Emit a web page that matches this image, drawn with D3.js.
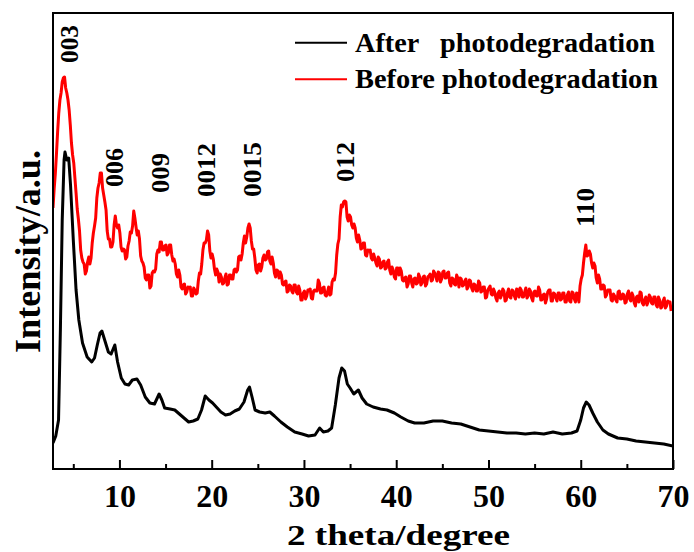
<!DOCTYPE html>
<html>
<head>
<meta charset="utf-8">
<script src="https://cdn.jsdelivr.net/npm/d3@7/dist/d3.min.js"></script>
<style>
  html, body { margin: 0; padding: 0; background: #fff; }
  svg { display: block; }
  text { font-family: "Liberation Serif", "Times New Roman", serif; font-weight: bold; fill: #000; }
</style>
</head>
<body>
<svg id="chart" width="694" height="552"></svg>
<script>
// XRD patterns of the LDH sample before and after photodegradation (intensity in a.u.)

// Before photodegradation: scan starts at 2.8 deg, step 0.125 deg
const beforeStart = 2.8;
const beforeStep = 0.125;
const beforeIntensity = [
  261,280,295,315,337,356,369,376,387,391,392,381,376,369,359,344,326,314,306,291,
  276,260,250,238,219,211,207,205,195,198,207,212,205,211,226,236,243,251,271,281,
  286,296,296,281,274,267,259,238,230,230,222,222,227,244,253,244,241,244,236,222,
  218,220,219,210,212,223,228,237,236,243,258,251,242,234,238,230,213,208,206,202,
  191,189,194,194,181,183,196,198,197,200,215,219,217,227,227,219,219,223,224,214,
  216,224,224,214,208,210,205,195,192,199,194,182,180,184,185,175,177,182,181,182,
  173,173,181,179,175,176,188,196,195,205,219,226,226,229,238,234,218,211,215,210,
  200,194,200,197,187,195,192,185,186,191,195,184,185,194,194,190,190,199,200,197,
  199,212,213,209,215,226,233,226,232,241,245,241,228,220,220,211,199,196,204,205,
  198,202,211,214,209,210,217,218,208,205,212,206,196,192,199,198,191,197,194,185,
  184,187,188,177,178,184,183,178,176,184,184,177,175,183,179,169,169,176,178,170,
  173,179,179,180,171,170,178,179,178,178,189,186,176,176,181,182,174,173,177,182,
  174,175,187,190,189,196,214,225,230,252,264,262,267,268,267,252,248,254,252,244,
  241,245,241,231,227,234,229,220,221,226,226,214,213,219,218,219,211,209,215,211,
  206,203,212,210,201,202,207,208,200,201,207,209,199,195,202,199,192,190,201,201,
  194,201,198,189,188,191,192,182,185,193,193,186,182,190,191,185,186,195,192,184,
  186,192,193,183,185,192,193,195,188,189,198,196,192,188,197,196,187,190,197,198,
  191,191,196,197,186,183,191,190,185,184,194,191,182,191,190,183,184,188,190,180,
  182,189,188,181,178,185,184,178,178,188,186,177,178,182,182,171,172,179,181,183,
  175,174,180,177,171,168,176,178,171,174,180,178,168,169,176,180,172,171,179,178,
  173,170,180,179,172,181,179,172,172,177,181,171,173,180,178,171,168,177,178,173,
  173,182,179,169,169,174,175,166,170,177,179,179,168,168,176,175,171,168,176,176,
  169,170,176,176,167,167,174,177,168,167,177,176,170,167,176,175,167,183,190,194,
  206,216,224,213,214,218,215,206,201,206,203,191,186,194,190,180,180,184,183,172,
  174,179,179,179,169,168,175,173,169,167,177,178,170,170,175,174,166,167,175,178,
  170,168,176,173,166,163,172,173,167,177,176,166,164,169,172,164,167,174,172,166,
  165,172,172,164,162,172,169,161,162,168,171,161,163,168,167,167,158
];

// After photodegradation
const afterAngle = [
  2.8,3.1,3.4,3.6,3.8,4.0,4.1,4.3,4.5,4.7,5.0,5.3,5.6,6.0,6.5,7.0,7.3,7.6,7.9,8.1,
  8.4,8.8,9.1,9.5,9.8,10.2,10.6,11.0,11.4,11.9,12.3,12.8,13.3,13.8,14.3,14.6,14.9,15.5,16.0,16.5,
  17.0,17.5,18.0,18.5,18.9,19.3,19.7,20.1,20.6,21.0,21.5,22.0,22.5,23.0,23.5,23.9,24.1,24.4,24.7,25.2,
  25.8,26.3,26.8,27.5,28.2,29.0,29.8,30.5,31.2,31.7,32.1,32.6,33.0,33.4,33.8,34.1,34.4,34.7,35.0,35.4,
  35.9,36.3,36.8,37.5,38.3,39.0,39.8,40.5,41.3,42.0,43.0,44.0,45.0,46.0,47.0,48.0,49.0,50.0,51.0,52.0,
  53.0,54.0,55.0,56.0,57.0,58.0,59.0,59.6,60.0,60.3,60.6,60.9,61.3,61.8,62.4,63.0,64.0,65.0,66.0,67.0,
  68.0,69.0,70.0
];
const afterIntensity = [
  26,33,49,139,249,309,317,309,311,284,229,179,149,126,112,107,111,124,136,138,
  129,117,115,124,107,91,85,84,89,90,84,72,66,65,75,69,61,60,59,55,
  51,47,48,50,59,73,69,66,61,57,54,55,58,60,67,79,82,71,59,57,
  56,57,53,47,42,37,35,33,34,41,37,38,41,64,91,101,98,85,81,75,
  79,71,65,62,60,59,56,52,48,46,46,48,48,46,45,42,39,38,37,36,
  36,35,36,35,37,35,36,38,49,61,67,64,56,47,39,35,31,30,28,27,
  26,25,23
];

// Reflection labels
const peakLabels = ["003", "006", "009", "0012", "0015", "012", "110"];
const peakAngles = [4.6, 9.5, 14.5, 19.4, 24.4, 34.5, 60.5];
const peakLabelHeights = [406, 282, 276, 272, 272, 287, 242];

const xTicks = [10, 20, 30, 40, 50, 60, 70];
const xMinorTicks = [5, 15, 25, 35, 45, 55, 65];
const seriesNames = ["After   photodegradation", "Before photodegradation"];
const seriesColors = ["#000000", "#ff0000"];

const svg = d3.select("#chart");
const plot = { left: 53, top: 13, right: 673, bottom: 469 };

const x = d3.scaleLinear().domain([2.8, 70]).range([plot.left, plot.right]);
const y = d3.scaleLinear().domain([0, 456]).range([plot.bottom, plot.top]);

svg.append("clipPath").attr("id", "plot-clip")
  .append("rect")
  .attr("x", plot.left).attr("y", plot.top)
  .attr("width", plot.right - plot.left).attr("height", plot.bottom - plot.top);

const beforeData = beforeIntensity.map((v, i) => [beforeStart + i * beforeStep, v]);
const afterData = afterAngle.map((a, i) => [a, afterIntensity[i]]);

const line = d3.line().x(d => x(d[0])).y(d => y(d[1]));

const curves = svg.append("g").attr("clip-path", "url(#plot-clip)");
curves.append("path").datum(afterData)
  .attr("d", line).attr("fill", "none")
  .attr("stroke", seriesColors[0]).attr("stroke-width", 3)
  .attr("stroke-linejoin", "round");
curves.append("path").datum(beforeData)
  .attr("d", line).attr("fill", "none")
  .attr("stroke", seriesColors[1]).attr("stroke-width", 3)
  .attr("stroke-linejoin", "round");

// Frame
svg.append("rect")
  .attr("x", plot.left).attr("y", plot.top)
  .attr("width", plot.right - plot.left).attr("height", plot.bottom - plot.top)
  .attr("fill", "none").attr("stroke", "#000").attr("stroke-width", 2);

// Bottom axis, ticks pointing inward
const xAxis = d3.axisBottom(x).tickValues(xTicks).tickSize(-9).tickFormat(d3.format("d"));
const gx = svg.append("g").attr("transform", `translate(0,${plot.bottom})`).call(xAxis);
gx.select(".domain").remove();
gx.selectAll(".tick line").attr("stroke", "#000").attr("stroke-width", 2);
gx.selectAll(".tick text")
  .attr("y", 38).attr("dy", null)
  .style("font-size", "32px")
  .style("font-family", "'Liberation Serif', serif")
  .style("font-weight", "bold");

const xMinor = d3.axisBottom(x).tickValues(xMinorTicks).tickSize(-5).tickFormat("");
const gxm = svg.append("g").attr("transform", `translate(0,${plot.bottom})`).call(xMinor);
gxm.select(".domain").remove();
gxm.selectAll(".tick line").attr("stroke", "#000").attr("stroke-width", 2);

// Axis titles
svg.append("text")
  .attr("x", 398.5).attr("y", 545)
  .attr("text-anchor", "middle")
  .attr("textLength", 223).attr("lengthAdjust", "spacingAndGlyphs")
  .style("font-size", "30px")
  .text("2 theta/degree");

svg.append("text")
  .attr("transform", "translate(40,251.5) rotate(-90)")
  .attr("text-anchor", "middle")
  .attr("textLength", 203).attr("lengthAdjust", "spacingAndGlyphs")
  .style("font-size", "35px")
  .text("Intensity/a.u.");

// Reflection labels, rotated
const labelLengths = [38, 39, 40, 54, 55, 40, 39];
const labelOffsetX = [8, 8, 8.5, 8.5, 9, 8.5, 8.5];
peakLabels.forEach((lab, i) => {
  const px = x(peakAngles[i]) + labelOffsetX[i];
  const py = y(peakLabelHeights[i]);
  svg.append("text")
    .attr("transform", `translate(${px},${py}) rotate(-90)`)
    .attr("text-anchor", "start")
    .attr("textLength", labelLengths[i]).attr("lengthAdjust", "spacingAndGlyphs")
    .style("font-size", "26px")
    .text(lab);
});

// Legend
const legendY = [42.7, 79.3];
const legendTextY = [51.7, 87.5];
const legendLengths = [300, 303];
seriesNames.forEach((name, i) => {
  svg.append("line")
    .attr("x1", 295).attr("x2", 347)
    .attr("y1", legendY[i]).attr("y2", legendY[i])
    .attr("stroke", seriesColors[i]).attr("stroke-width", 2);
  svg.append("text")
    .attr("x", 355).attr("y", legendTextY[i])
    .attr("xml:space", "preserve")
    .style("white-space", "pre")
    .attr("textLength", legendLengths[i]).attr("lengthAdjust", "spacingAndGlyphs")
    .style("font-size", "28px")
    .text(name);
});
</script>
</body>
</html>
